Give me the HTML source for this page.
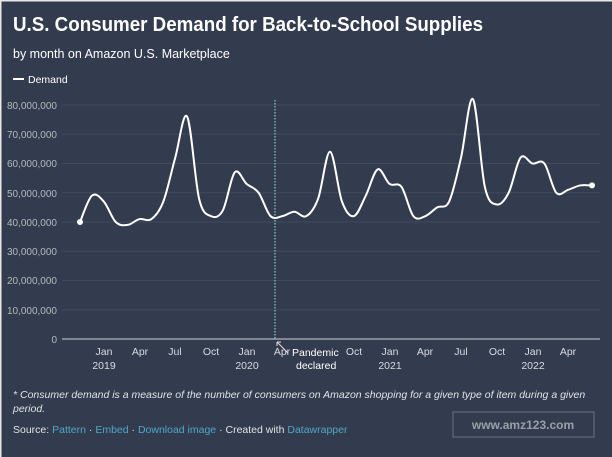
<!DOCTYPE html>
<html><head><meta charset="utf-8"><style>
body{margin:0;width:612px;height:457px;background:#333c4e;overflow:hidden;font-family:"Liberation Sans",sans-serif;}
</style></head><body>
<svg width="612" height="457" xmlns="http://www.w3.org/2000/svg" style="position:absolute;left:0;top:0">
<rect x="0" y="0" width="612" height="457" fill="#333c4e"/>
<rect x="0" y="0" width="612" height="1.5" fill="#e8e8e8"/>
<rect x="0" y="0" width="1.5" height="457" fill="#e8e8e8"/>
<text x="13" y="31" fill="#fff" font-size="20" font-weight="bold" textLength="470" lengthAdjust="spacingAndGlyphs">U.S. Consumer Demand for Back-to-School Supplies</text>
<text x="13" y="58" fill="#fff" font-size="12.5">by month on Amazon U.S. Marketplace</text>
<rect x="13" y="78" width="11" height="2" fill="#fff"/>
<text x="28" y="83" fill="#fff" font-size="10.5">Demand</text>
<g stroke="#414a5c" stroke-width="1">
<line x1="62" x2="600" y1="105" y2="105"/><line x1="62" x2="600" y1="134.3" y2="134.3"/>
<line x1="62" x2="600" y1="163.5" y2="163.5"/><line x1="62" x2="600" y1="192.8" y2="192.8"/>
<line x1="62" x2="600" y1="222" y2="222"/><line x1="62" x2="600" y1="251.3" y2="251.3"/>
<line x1="62" x2="600" y1="280.5" y2="280.5"/><line x1="62" x2="600" y1="309.8" y2="309.8"/>
</g>
<line x1="62" x2="600" y1="339" y2="339" stroke="#9aa0aa" stroke-width="1.5"/>
<g fill="#b4b8c0" font-size="10" text-anchor="end">
<text x="57" y="109">80,000,000</text><text x="57" y="138">70,000,000</text>
<text x="57" y="167">60,000,000</text><text x="57" y="197">50,000,000</text>
<text x="57" y="226">40,000,000</text><text x="57" y="255">30,000,000</text>
<text x="57" y="284">20,000,000</text><text x="57" y="314">10,000,000</text>
<text x="57" y="343">0</text>
</g>
<g fill="#d8dbe0" font-size="10.5" text-anchor="middle">
<text x="104" y="355">Jan</text><text x="104" y="369">2019</text>
<text x="140" y="355">Apr</text><text x="175" y="355">Jul</text><text x="211" y="355">Oct</text>
<text x="247" y="355">Jan</text><text x="247" y="369">2020</text>
<text x="282" y="355">Apr</text><text x="354" y="355">Oct</text>
<text x="390" y="355">Jan</text><text x="390" y="369">2021</text>
<text x="425" y="355">Apr</text><text x="461" y="355">Jul</text><text x="497" y="355">Oct</text>
<text x="533" y="355">Jan</text><text x="533" y="369">2022</text>
<text x="568" y="355">Apr</text>
</g>
<line x1="275" x2="275" y1="100" y2="339" stroke="#7fc4c4" stroke-width="1.3" stroke-dasharray="1.5,1.5"/>
<path d="M277 342 L288 353 M277 342 l4 0 M277 342 l0 4" stroke="#ddd" stroke-width="1" fill="none"/>
<text x="292" y="356" fill="#fff" font-size="10.5">Pandemic</text>
<text x="296" y="369" fill="#fff" font-size="10.5">declared</text>
<path id="ln" fill="none" stroke="#fff" stroke-width="2"/>
<circle cx="80" cy="222" r="3" fill="#fff"/>
<circle cx="592" cy="185.4" r="3" fill="#fff"/>
<text x="13" y="398" fill="#e0e2e6" font-size="10.5" font-style="italic">* Consumer demand is a measure of the number of consumers on Amazon shopping for a given type of item during a given</text>
<text x="13" y="412" fill="#e0e2e6" font-size="10.5" font-style="italic">period.</text>
<text x="13" y="433" font-size="10.5" fill="#e0e2e6">Source: <tspan fill="#4fa8c8">Pattern</tspan> · <tspan fill="#4fa8c8">Embed</tspan> · <tspan fill="#4fa8c8">Download image</tspan> · Created with <tspan fill="#4fa8c8">Datawrapper</tspan></text>
<rect x="453" y="412" width="141" height="25" fill="none" stroke="#6b7280" stroke-width="1"/>
<text x="523" y="429" fill="#9aa0aa" font-size="12" font-weight="bold" text-anchor="middle">www.amz123.com</text>
</svg>
<script>
var v=[40,49,47,40,39,41,41,47,62,76,48,42,44,57,53,50,42,42,43.5,42,48,64,47,42,49,58,53,52,42,42,45,47,62,82,52,46,50,62,60,60,50,51,52.5,52.5];
var p=v.map(function(d,i){return [80+i*(512/43),339-d*2.925];});
var s="M"+p[0][0]+" "+p[0][1];
for(var i=0;i<p.length-1;i++){var a=p[i-1]||p[i],b=p[i],c=p[i+1],d=p[i+2]||c;
s+=" C"+(b[0]+(c[0]-a[0])/6)+" "+(b[1]+(c[1]-a[1])/6)+" "+(c[0]-(d[0]-b[0])/6)+" "+(c[1]-(d[1]-b[1])/6)+" "+c[0]+" "+c[1];}
document.getElementById("ln").setAttribute("d",s);
</script>
</body></html>
